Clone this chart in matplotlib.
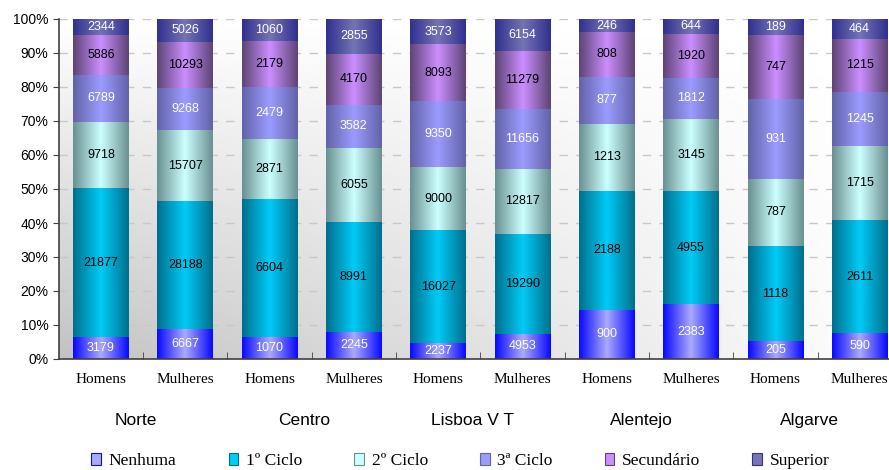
import numpy as np
import matplotlib
matplotlib.use('Agg')
import matplotlib.pyplot as plt
from matplotlib.colors import LinearSegmentedColormap
from matplotlib.patches import Patch
from matplotlib.transforms import blended_transform_factory

regions = ['Norte', 'Centro', 'Lisboa V T', 'Alentejo', 'Algarve']
genders = ['Homens', 'Mulheres']
levels = ['Nenhuma', '1º Ciclo', '2º Ciclo', '3ª Ciclo', 'Secundário', 'Superior']

nenhuma    = [3179, 6667, 1070, 2245, 2237, 4953, 900, 2383, 205, 590]
ciclo1     = [21877, 28188, 6604, 8991, 16027, 19290, 2188, 4955, 1118, 2611]
ciclo2     = [9718, 15707, 2871, 6055, 9000, 12817, 1213, 3145, 787, 1715]
ciclo3     = [6789, 9268, 2479, 3582, 9350, 11656, 877, 1812, 931, 1245]
secundario = [5886, 10293, 2179, 4170, 8093, 11279, 808, 1920, 747, 1215]
superior   = [2344, 5026, 1060, 2855, 3573, 6154, 246, 644, 189, 464]

series = [nenhuma, ciclo1, ciclo2, ciclo3, secundario, superior]
edge_colors = ['#0808ff', '#006e8c', '#6a9090', '#6262a8', '#5c4474', '#30308e']
center_colors = ['#aaaaff', '#00ccf7', '#ccffff', '#9c9cff', '#cc8eff', '#7474b6']
text_colors = ['white', 'black', 'black', 'white', 'black', 'white']

fig = plt.figure(figsize=(8.89, 4.70), dpi=100)
ax = fig.add_axes([58.8 / 889, 1 - 359 / 470, 843 / 889, 340 / 470])
ax.set_facecolor('none')

# background gradient of the plot area
gx = np.linspace(0, 1, 200)[None, :]
gy = np.linspace(0, 1, 200)[:, None]
bg = 1 - 0.24 * (1 - gy) * (1 - gx)
ax.imshow(bg, extent=[0, 1, 0, 1], transform=ax.transAxes, aspect='auto',
          cmap='gray', vmin=0, vmax=1, origin='lower', zorder=0)

data = np.array(series, dtype=float)
totals = data.sum(axis=0)
pct = data / totals * 100
x = np.arange(len(nenhuma))
bottom = np.zeros(len(x))
grad = np.linspace(0, 1, 256)[None, :]

for i, lvl in enumerate(levels):
    cmap = LinearSegmentedColormap.from_list(
        lvl, [(0, edge_colors[i]), (0.5, center_colors[i]), (1, edge_colors[i])])
    rects = ax.bar(x, pct[i], bottom=bottom, width=0.66, color=center_colors[i],
                   linewidth=0, zorder=2)
    for r, raw, b, p in zip(rects, series[i], bottom, pct[i]):
        x0, y0, w, h = r.get_x(), r.get_y(), r.get_width(), r.get_height()
        ax.imshow(grad, extent=[x0, x0 + w, y0, y0 + h], cmap=cmap, aspect='auto',
                  interpolation='bicubic', zorder=2.1)
        ax.text(r.get_x() + w / 2, b + p / 2, str(raw), ha='center', va='center',
                fontsize=9, color=text_colors[i], family='Liberation Sans', zorder=4)
    bottom += pct[i]

ax.set_xlim(-0.5, len(x) - 0.5)
ax.set_ylim(0, 100)

ax.set_yticks(np.arange(0, 101, 10))
ax.set_yticklabels([f'{v}%' for v in range(0, 101, 10)], family='Liberation Sans', fontsize=10)
ax.tick_params(axis='y', direction='out', length=4, color='#404040')

ax.set_xticks(x)
ax.set_xticklabels(genders * len(regions), family='Liberation Serif', fontsize=11)
ax.tick_params(axis='x', which='major', length=0, pad=10)
ax.set_xticks(np.arange(0.5, len(x) - 0.5, 1), minor=True)
ax.tick_params(axis='x', which='minor', direction='in', length=5, color='#404040')

ax.set_axisbelow(True)
ax.yaxis.grid(True, linestyle=(0, (6, 6)), color='#c8c8c8', linewidth=1)

for s in ['top', 'right']:
    ax.spines[s].set_visible(False)
for s in ['left', 'bottom']:
    ax.spines[s].set_color('#404040')
    ax.spines[s].set_linewidth(1.2)

trans = blended_transform_factory(ax.transData, ax.transAxes)
for k, reg in enumerate(regions):
    ax.text(2 * k + 0.41, -0.18, reg, transform=trans, ha='center', va='center',
            fontsize=12.5, family='Liberation Sans')

handles = [Patch(facecolor=center_colors[i], edgecolor=edge_colors[i], linewidth=0.8)
           for i in range(len(levels))]
fig.legend(handles, levels, loc='center', bbox_to_anchor=(0.518, 0.019), ncol=6,
           frameon=False, prop={'family': 'Liberation Serif', 'size': 12.5},
           handlelength=0.55, handleheight=0.7, handletextpad=0.45, columnspacing=3.0)

fig.savefig('out.png', dpi=100)
